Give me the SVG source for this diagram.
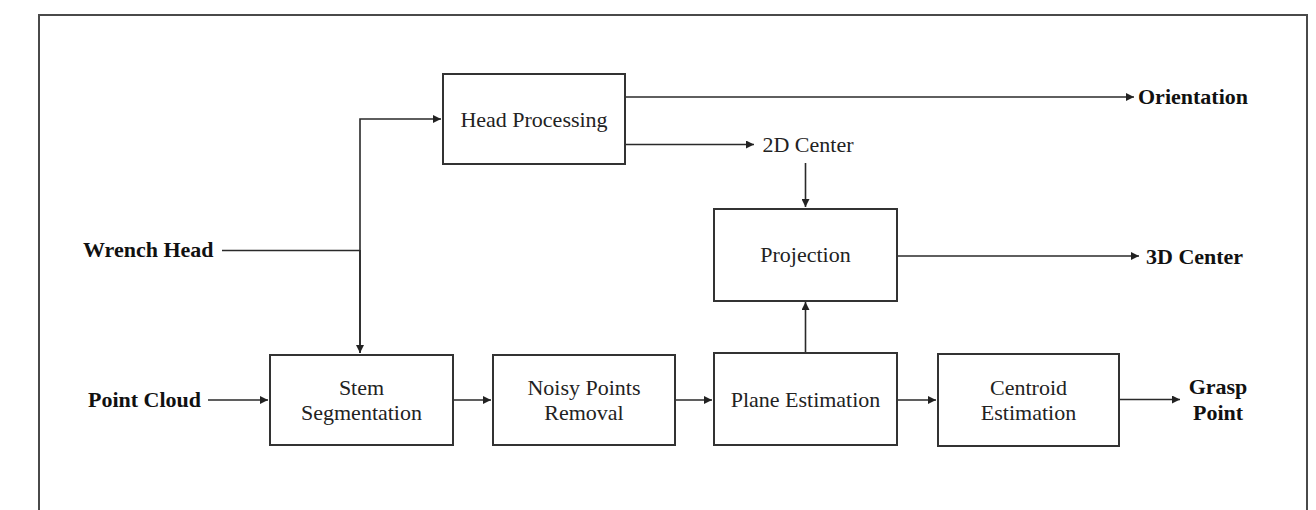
<svg xmlns="http://www.w3.org/2000/svg" width="1316" height="510" viewBox="0 0 1316 510">
  <defs>
    <marker id="arrow" viewBox="0 0 10 10" refX="10" refY="5" markerWidth="9" markerHeight="8" markerUnits="userSpaceOnUse" orient="auto">
      <path d="M0,0 L10,5 L0,10 z" fill="#222"/>
    </marker>
    <style>
      .box { fill: #fff; stroke: #333; stroke-width: 2; }
      .wire { fill: none; stroke: #2a2a2a; stroke-width: 1.6; }
      .frame { fill: none; stroke: #4a4a4a; stroke-width: 2; }
      .lbl { font-family: "Liberation Serif", "Times New Roman", serif; font-size: 22px; fill: #222; text-anchor: middle; }
      .io { font-family: "Liberation Serif", "Times New Roman", serif; font-size: 22px; font-weight: bold; fill: #111; }
    </style>
  </defs>
  <rect width="1316" height="510" fill="#fff"/>

  <!-- outer frame, open at the bottom -->
  <path class="frame" d="M39,510 V15 H1307 V510"/>

  <!-- connectors -->
  <g id="connectors">
    <path class="wire" d="M222,250.5 H360"/>
    <path class="wire" d="M360,353 V119 H441" marker-end="url(#arrow)"/>
    <path class="wire" d="M360,250 V353" marker-end="url(#arrow)"/>
    <path class="wire" d="M625,97 H1134" marker-end="url(#arrow)"/>
    <path class="wire" d="M625,144.5 H754" marker-end="url(#arrow)"/>
    <path class="wire" d="M805.5,163 V207" marker-end="url(#arrow)"/>
    <path class="wire" d="M897,256 H1139" marker-end="url(#arrow)"/>
    <path class="wire" d="M805.5,353 V302" marker-end="url(#arrow)"/>
    <path class="wire" d="M208,400 H268" marker-end="url(#arrow)"/>
    <path class="wire" d="M453,400 H491" marker-end="url(#arrow)"/>
    <path class="wire" d="M675,400 H712" marker-end="url(#arrow)"/>
    <path class="wire" d="M897,400 H936" marker-end="url(#arrow)"/>
    <path class="wire" d="M1119,399.5 H1180" marker-end="url(#arrow)"/>
  </g>

  <!-- inputs and outputs -->
  <g id="wrench-head"><text class="io" x="83" y="257">Wrench Head</text></g>
  <g id="point-cloud"><text class="io" x="88" y="407">Point Cloud</text></g>
  <g id="orientation"><text class="io" x="1138" y="104">Orientation</text></g>
  <g id="center-3d"><text class="io" x="1146" y="264">3D Center</text></g>
  <g id="grasp-point">
    <text class="io" x="1218" y="394" text-anchor="middle">Grasp</text>
    <text class="io" x="1218" y="420" text-anchor="middle">Point</text>
  </g>
  <g id="center-2d"><text class="lbl" x="808" y="152">2D Center</text></g>

  <!-- processing blocks -->
  <g id="head-processing">
    <rect class="box" x="443" y="74" width="182" height="90"/>
    <text class="lbl" x="534" y="127">Head Processing</text>
  </g>
  <g id="projection">
    <rect class="box" x="714" y="209" width="183" height="92"/>
    <text class="lbl" x="805.5" y="262">Projection</text>
  </g>
  <g id="stem-segmentation">
    <rect class="box" x="270" y="355" width="183" height="90"/>
    <text class="lbl" x="361.5" y="395">Stem</text>
    <text class="lbl" x="361.5" y="420">Segmentation</text>
  </g>
  <g id="noisy-points-removal">
    <rect class="box" x="493" y="355" width="182" height="90"/>
    <text class="lbl" x="584" y="395">Noisy Points</text>
    <text class="lbl" x="584" y="420">Removal</text>
  </g>
  <g id="plane-estimation">
    <rect class="box" x="714" y="353" width="183" height="92"/>
    <text class="lbl" x="805.5" y="407">Plane Estimation</text>
  </g>
  <g id="centroid-estimation">
    <rect class="box" x="938" y="354" width="181" height="92"/>
    <text class="lbl" x="1028.5" y="395">Centroid</text>
    <text class="lbl" x="1028.5" y="420">Estimation</text>
  </g>
</svg>
